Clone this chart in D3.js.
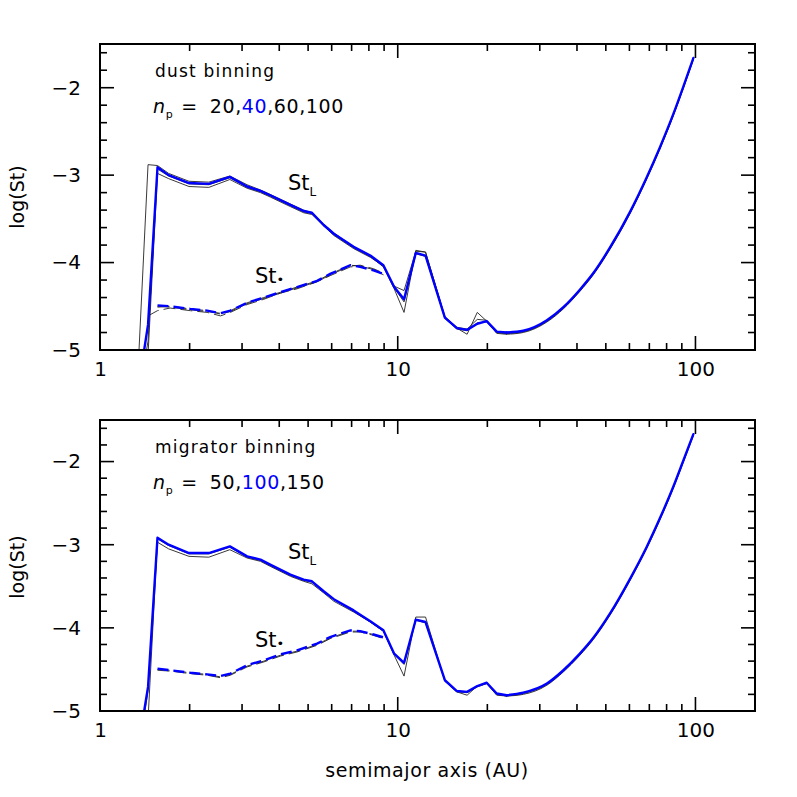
<!DOCTYPE html>
<html>
<head>
<meta charset="utf-8">
<script src="https://cdn.jsdelivr.net/npm/d3@7"></script>
<style>
  body { margin: 0; background: #fff; }
  text { font-family: "DejaVu Sans", "Liberation Sans", sans-serif; fill: #000; }
</style>
</head>
<body>
<div id="chart"></div>
<script>
// semimajor axis grid (AU) for the St_L curves
var aL = [1.35, 1.45, 1.56, 1.70, 1.99, 2.32, 2.73, 3.12, 3.46, 3.73, 4.36, 4.83, 5.15, 5.64, 6.10,
          7.11, 8.09, 8.95, 9.73, 10.5, 11.5, 12.4, 14.4, 15.8, 17.1, 18.5, 19.9, 21.5, 23.2, 26.4,
          31.7, 36.0, 40.9, 45.4, 51.6, 60.3, 68.5, 76.0, 84.3, 91.0, 98.4];

// top panel (dust binning), log St_L
var dustL40 = [-5.40, -4.71, -2.91, -3.00, -3.09, -3.10, -3.02, -3.13, -3.18, -3.23, -3.34, -3.41, -3.43, -3.57, -3.67,
               -3.82, -3.92, -4.03, -4.28, -4.42, -3.89, -3.92, -4.63, -4.75, -4.77, -4.70, -4.67, -4.79, -4.80, -4.78,
               -4.66, -4.51, -4.31, -4.12, -3.83, -3.42, -3.03, -2.68, -2.30, -1.99, -1.66];
var dustL20 = [-5.05, -2.88, -2.89, -2.98, -3.07, -3.08, -3.01, -3.11, -3.17, -3.22, -3.33, -3.40, -3.43, -3.56, -3.66,
               -3.82, -3.93, -4.05, -4.30, -4.57, -3.86, -3.88, -4.62, -4.75, -4.82, -4.57, -4.67, -4.81, -4.82, -4.80,
               -4.68, -4.53, -4.33, -4.14, -3.85, -3.44, -3.05, -2.70, -2.32, -2.01, -1.68];
var dustL60 = [-5.60, -5.05, -2.98, -3.04, -3.13, -3.14, -3.05, -3.15, -3.20, -3.25, -3.36, -3.43, -3.45, -3.58, -3.69,
               -3.84, -3.94, -4.04, -4.27, -4.32, -3.87, -3.88, -4.62, -4.74, -4.76, -4.65, -4.66, -4.80, -4.81, -4.79,
               -4.67, -4.52, -4.32, -4.13, -3.84, -3.43, -3.04, -2.69, -2.31, -2.00, -1.67];
var dustL100 = [-5.50, -4.90, -2.93, -3.01, -3.10, -3.11, -3.03, -3.14, -3.19, -3.24, -3.35, -3.42, -3.44, -3.58, -3.68,
                -3.83, -3.93, -4.04, -4.29, -4.45, -3.90, -3.93, -4.64, -4.76, -4.78, -4.69, -4.68, -4.80, -4.81, -4.79,
                -4.67, -4.52, -4.32, -4.13, -3.84, -3.43, -3.04, -2.69, -2.31, -2.00, -1.67];

// bottom panel (migrator binning), log St_L
var migL100 = [-5.40, -4.71, -2.915, -3.00, -3.10, -3.10, -3.02, -3.14, -3.18, -3.24, -3.36, -3.42, -3.44, -3.56, -3.655,
               -3.79, -3.92, -4.03, -4.31, -4.42, -3.90, -3.93, -4.63, -4.76, -4.77, -4.70, -4.66, -4.79, -4.81, -4.78,
               -4.67, -4.51, -4.31, -4.12, -3.83, -3.41, -3.03, -2.68, -2.30, -1.99, -1.67];
var migL50 = [-5.50, -4.75, -2.97, -3.05, -3.14, -3.15, -3.06, -3.16, -3.20, -3.26, -3.38, -3.44, -3.47, -3.58, -3.68,
              -3.81, -3.93, -4.04, -4.33, -4.58, -3.87, -3.87, -4.64, -4.77, -4.81, -4.70, -4.67, -4.81, -4.82, -4.80,
              -4.69, -4.53, -4.33, -4.14, -3.85, -3.43, -3.05, -2.70, -2.32, -2.01, -1.69];
var migL150 = [-5.80, -5.10, -2.93, -3.01, -3.11, -3.11, -3.03, -3.15, -3.19, -3.25, -3.37, -3.43, -3.45, -3.57, -3.66,
               -3.80, -3.93, -4.04, -4.32, -4.44, -3.91, -3.94, -4.64, -4.77, -4.78, -4.71, -4.67, -4.80, -4.82, -4.79,
               -4.68, -4.52, -4.32, -4.13, -3.84, -3.42, -3.04, -2.69, -2.31, -2.00, -1.68];

// semimajor axis grid (AU) for the St* curves
var aS = [1.45, 1.56, 1.72, 2.01, 2.29, 2.54, 2.74, 3.12, 3.55, 4.03, 4.59, 5.36, 5.93, 6.93, 7.48, 8.29, 8.96];

var dustS40 = [null, -4.49, -4.50, -4.53, -4.55, -4.58, -4.55, -4.46, -4.40, -4.34, -4.28, -4.21, -4.13, -4.03, -4.05, -4.09, -4.13];
var dustS20 = [-4.61, -4.55, -4.52, -4.55, -4.57, -4.61, -4.57, -4.48, -4.42, -4.35, -4.30, -4.22, -4.15, -4.05, -4.04, -4.08, -4.14];
var dustS60 = [null, -4.51, -4.50, -4.53, -4.55, -4.59, -4.56, -4.47, -4.41, -4.35, -4.29, -4.22, -4.14, -4.04, -4.03, -4.07, -4.12];
var dustS100 = [null, -4.50, -4.51, -4.54, -4.56, -4.58, -4.55, -4.46, -4.40, -4.34, -4.28, -4.21, -4.13, -4.03, -4.04, -4.08, -4.13];

var migS100 = [null, -4.49, -4.51, -4.54, -4.56, -4.58, -4.55, -4.45, -4.39, -4.32, -4.27, -4.19, -4.11, -4.03, -4.04, -4.08, -4.115];
var migS50 = [null, -4.51, -4.52, -4.55, -4.57, -4.60, -4.57, -4.47, -4.41, -4.34, -4.29, -4.21, -4.13, -4.05, -4.05, -4.09, -4.13];
var migS150 = [null, -4.50, -4.51, -4.54, -4.56, -4.59, -4.56, -4.46, -4.40, -4.33, -4.28, -4.20, -4.12, -4.04, -4.04, -4.08, -4.12];

// ticks
var xMajor = [1, 10, 100];
var xMinor = [2, 3, 4, 5, 6, 7, 8, 9, 20, 30, 40, 50, 60, 70, 80, 90];
var yMajor = [-5, -4, -3, -2];
var yMinor = [-4.8, -4.6, -4.4, -4.2, -3.8, -3.6, -3.4, -3.2, -2.8, -2.6, -2.4, -2.2, -1.8, -1.6];

var W = 797, H = 797;
var frameL = 100, frameR = 755;
var smoothFrom = 23.2;   // past this the model curve is smooth

var svg = d3.select("#chart").append("svg")
    .attr("width", W)
    .attr("height", H);

var x = d3.scaleLog().domain([1, Math.pow(10, 2.2)]).range([frameL, frameR]);

function zip(a, v) {
  return a.map(function (d, i) { return { a: d, v: v[i] }; });
}

// inward tick marks on all four sides of a frame
function drawTicks(y0, y1, y) {
  var tg = svg.append("g").attr("class", "ticks");
  var xt = xMajor.map(function (d) { return { v: d, len: 14 }; })
    .concat(xMinor.map(function (d) { return { v: d, len: 7 }; }));
  var yt = yMajor.map(function (d) { return { v: d, len: 14 }; })
    .concat(yMinor.map(function (d) { return { v: d, len: 7 }; }));
  [[y1, -1], [y0, 1]].forEach(function (side) {
    tg.selectAll(null).data(xt).enter().append("line")
      .attr("x1", function (d) { return x(d.v); })
      .attr("x2", function (d) { return x(d.v); })
      .attr("y1", side[0])
      .attr("y2", function (d) { return side[0] + side[1] * d.len; })
      .attr("stroke", "#000").attr("stroke-width", 1.6);
  });
  [[frameL, 1], [frameR, -1]].forEach(function (side) {
    tg.selectAll(null).data(yt).enter().append("line")
      .attr("x1", side[0])
      .attr("x2", function (d) { return side[0] + side[1] * d.len; })
      .attr("y1", function (d) { return y(d.v); })
      .attr("y2", function (d) { return y(d.v); })
      .attr("stroke", "#000").attr("stroke-width", 1.6);
  });
}

// draw one panel
function panel(id, y0, y1, title, npLabel, blue, blacks, blueS, blacksS, labelY) {
  var y = d3.scaleLinear().domain([-5, -1.5]).range([y1, y0]);
  var g = svg.append("g").attr("class", "panel-" + id);

  svg.append("defs").append("clipPath").attr("id", "clip-" + id)
    .append("rect")
    .attr("x", frameL).attr("y", y0)
    .attr("width", frameR - frameL).attr("height", y1 - y0);

  var lineGen = d3.line()
      .defined(function (d) { return d.v !== null; })
      .x(function (d) { return x(d.a); })
      .y(function (d) { return y(d.v); });
  var smoothGen = d3.line()
      .curve(d3.curveMonotoneX)
      .x(function (d) { return x(d.a); })
      .y(function (d) { return y(d.v); });

  var plot = g.append("g").attr("clip-path", "url(#clip-" + id + ")");

  // St_L: straight segments on the left, smooth tail on the right
  function runL(values, color, width) {
    var pts = zip(aL, values);
    [[lineGen, pts.filter(function (d) { return d.a <= smoothFrom; })],
     [smoothGen, pts.filter(function (d) { return d.a >= smoothFrom; })]].forEach(function (p) {
      plot.append("path").datum(p[1])
        .attr("fill", "none").attr("stroke", color).attr("stroke-width", width)
        .attr("stroke-linejoin", "round").attr("stroke-linecap", "round")
        .attr("d", p[0]);
    });
  }
  function runS(values, color, width, dash) {
    plot.append("path").datum(zip(aS, values))
      .attr("fill", "none").attr("stroke", color).attr("stroke-width", width)
      .attr("stroke-dasharray", dash)
      .attr("d", lineGen);
  }

  // thin black runs first, blue on top
  blacks.forEach(function (s) { runL(s, "#222", 0.9); });
  blacksS.forEach(function (s) { runS(s, "#222", 0.9, "12,5"); });
  runL(blue, "#0000ff", 2.4);
  runS(blueS, "#0000ff", 2.4, "11,5");

  // tick labels from the library's axes
  var xa = g.append("g").attr("transform", "translate(0," + y1 + ")")
    .call(d3.axisBottom(x).tickValues(xMajor).tickSize(0).tickPadding(12).tickFormat(d3.format("d")));
  var ya = g.append("g").attr("transform", "translate(" + frameL + ",0)")
    .call(d3.axisLeft(y).tickValues(yMajor).tickSize(0).tickPadding(19)
      .tickFormat(function (d) { return "\u2212" + Math.abs(d); }));
  [xa, ya].forEach(function (ax) {
    ax.select(".domain").remove();
    ax.selectAll("text").attr("font-size", 20).attr("font-family", "DejaVu Sans").attr("fill", "#000");
  });

  g.append("rect")
    .attr("x", frameL).attr("y", y0)
    .attr("width", frameR - frameL).attr("height", y1 - y0)
    .attr("fill", "none").attr("stroke", "#000").attr("stroke-width", 2);

  g.append("text")
    .attr("transform", "translate(24," + labelY + ") rotate(-90)")
    .attr("text-anchor", "middle")
    .attr("font-size", 19)
    .text("log(St)");

  g.append("text")
    .attr("x", 155).attr("y", y0 + 33)
    .attr("font-size", 17).attr("letter-spacing", 1.2)
    .text(title);

  var np = g.append("text")
    .attr("x", 153).attr("y", y0 + 69)
    .attr("font-size", 19).attr("letter-spacing", 0.6);
  np.append("tspan").attr("font-style", "italic").text("n");
  np.append("tspan").attr("font-size", 11).attr("dy", 5).text("p");
  np.append("tspan").attr("dy", -5).attr("dx", 8).text("=");
  npLabel.forEach(function (t, i) {
    np.append("tspan").attr("dx", i === 0 ? 12 : 0)
      .attr("fill", t[1] ? "#0000ff" : "#000").text(t[0]);
  });

  // curve labels
  var stL = g.append("text").attr("x", 288).attr("y", y(-3.15) + 2).attr("font-size", 21);
  stL.append("tspan").text("St");
  stL.append("tspan").attr("font-size", 12).attr("dy", 6).text("L");

  var stS = g.append("text").attr("x", 255).attr("y", y(-4.2) + 3).attr("font-size", 21);
  stS.append("tspan").text("St");
  stS.append("tspan").attr("font-size", 13).attr("dy", 1).text("\u2022");

  drawTicks(y0, y1, y);
}

panel("dust", 44, 350, "dust binning",
      [["20,", false], ["40", true], [",60,100", false]],
      dustL40, [dustL20, dustL60, dustL100], dustS40, [dustS20, dustS60, dustS100], 197);

panel("mig", 420, 711, "migrator binning",
      [["50,", false], ["100", true], [",150", false]],
      migL100, [migL50, migL150], migS100, [migS50, migS150], 567);

svg.append("text")
  .attr("x", 427).attr("y", 777)
  .attr("text-anchor", "middle")
  .attr("font-size", 19)
  .attr("letter-spacing", 0.6)
  .text("semimajor axis (AU)");
</script>
</body>
</html>
